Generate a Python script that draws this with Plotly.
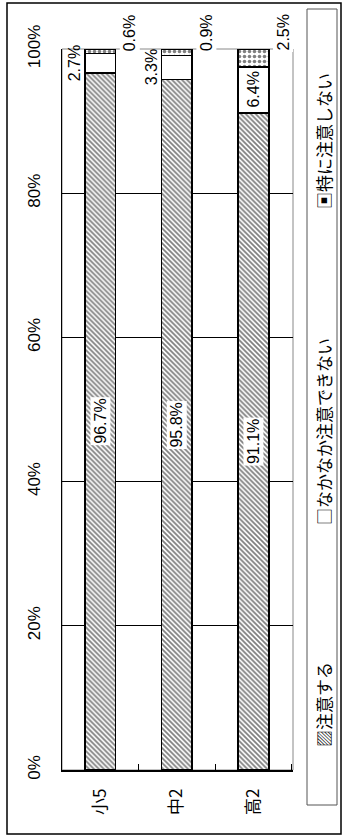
import plotly.graph_objects as go

#%% data
categories = ['小5', '中2', '高2']
series_names = ['注意する', 'なかなか注意できない', '特に注意しない']
chuui_suru = [96.7, 95.8, 91.1]
nakanaka = [2.7, 3.3, 6.4]
tokuni_nai = [0.6, 0.9, 2.5]
ytick_vals = [0, 20, 40, 60, 80, 100]
ytick_text = ['0%', '20%', '40%', '60%', '80%', '100%']

#%% layout constants (pixels)
W, H = 345, 837
ml, mr, mt, mb = 62, 52, 49, 67
pw, ph = W - ml - mr, H - mt - mb

def px(x):
    return (x - ml) / pw

def py(y):
    return (H - mb - y) / ph

num_font = 'Liberation Sans, Noto Sans CJK JP'
jp_font = 'Noto Sans CJK JP, Liberation Sans'

fig = go.Figure()
bar_line = dict(color='black', width=1.5)
fig.add_trace(go.Bar(x=categories, y=chuui_suru, name=series_names[0],
                     marker=dict(color='white', line=bar_line,
                                 pattern=dict(shape='\\', fgcolor='black', bgcolor='white',
                                              size=3.5, solidity=0.5))))
fig.add_trace(go.Bar(x=categories, y=nakanaka, name=series_names[1],
                     marker=dict(color='white', line=bar_line)))
fig.add_trace(go.Bar(x=categories, y=tokuni_nai, name=series_names[2],
                     marker=dict(color='white', line=bar_line,
                                 pattern=dict(shape='.', fgcolor='black', bgcolor='white',
                                              size=5, solidity=0.4))))

#%% value labels (rotated like the rest of the chart)
lab = dict(showarrow=False, textangle=-90, xanchor='center', yanchor='middle',
           font=dict(size=16, family=num_font, color='black'))
ann = []
for i, c in enumerate(categories):
    a, b, t = chuui_suru[i], nakanaka[i], tokuni_nai[i]
    ann.append(dict(lab, x=c, y=a / 2, text='%.1f%%' % a, bgcolor='white', borderpad=1))
    if b < 5:
        ann.append(dict(lab, x=c, y=a + b / 2, text='%.1f%%' % b, xshift=-26))
    else:
        ann.append(dict(lab, x=c, y=a + b / 2, text='%.1f%%' % b, bgcolor='white'))
    ann.append(dict(lab, x=c, y=100, text='%.1f%%' % t, xshift=29, yshift=16, bgcolor='white'))

#legend drawn as rotated text
leg_syms = ['▨', '□', '▣']
leg_y = [705, 432, 141]
for s, n, yy in zip(leg_syms, series_names, leg_y):
    ann.append(dict(xref='paper', yref='paper', x=px(323), y=py(yy), text=s + n,
                    xanchor='center', yanchor='middle', showarrow=False, textangle=-90,
                    font=dict(size=17, family=jp_font, color='black')))

shapes = [
    #outer frame
    dict(type='rect', xref='paper', yref='paper', x0=px(7), x1=px(341), y0=py(834), y1=py(3),
         line=dict(color='black', width=1.5)),
    #legend frame
    dict(type='rect', xref='paper', yref='paper', x0=px(307), x1=px(337), y0=py(805), y1=py(9),
         line=dict(color='#555555', width=1)),
    #plot area border
    dict(type='rect', xref='paper', yref='paper', x0=0, x1=1, y0=0, y1=1,
         line=dict(color='#888888', width=1), layer='between'),
]

fig.update_layout(
    width=W, height=H, barmode='stack', bargap=0.6, showlegend=False,
    margin=dict(l=ml, r=mr, t=mt, b=mb),
    paper_bgcolor='white', plot_bgcolor='white',
    annotations=ann, shapes=shapes,
    xaxis=dict(showline=True, linecolor='black', linewidth=1.5, tickangle=-90,
               ticks='inside', tickson='boundaries', ticklen=6, tickcolor='black',
               tickfont=dict(size=17, family=jp_font, color='black'), ticklabelstandoff=10),
    yaxis=dict(range=[0, 100], tickvals=ytick_vals, ticktext=ytick_text, tickangle=-90,
               showline=True, linecolor='black', linewidth=1, showgrid=True,
               gridcolor='black', gridwidth=1, zeroline=False,
               tickfont=dict(size=17, family=num_font, color='black'), ticklabelstandoff=14),
)

fig.write_html("out.html", config={'displayModeBar': False},
               post_script="document.body.style.margin='0';")
